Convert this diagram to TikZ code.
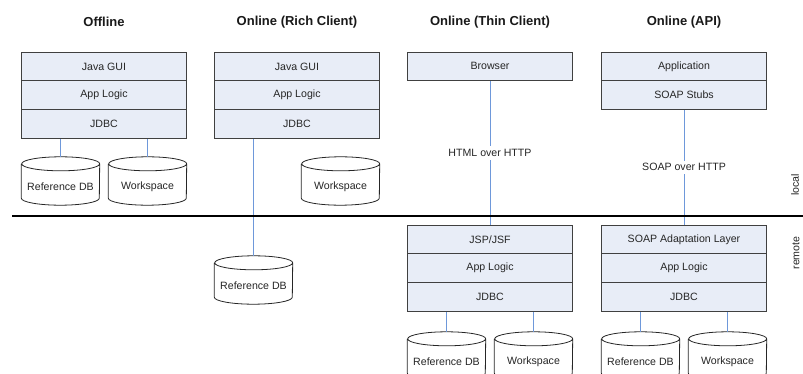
\documentclass[tikz,border=0pt]{standalone}
\usepackage{fontspec}
\setmainfont{Liberation Sans}
\usetikzlibrary{calc}
\definecolor{boxfill}{HTML}{E8EDF7}
\definecolor{linkblue}{HTML}{6E98DA}
\definecolor{edge}{HTML}{404040}
\definecolor{txt}{HTML}{262626}
\tikzset{
  layerbox/.style={draw=edge, line width=0.9pt, fill=boxfill, minimum width=165pt, minimum height=28.8pt, inner sep=0pt, text=txt, font=\fontsize{10.6}{12}\selectfont},
  dbbox/.style={minimum width=78pt, minimum height=48pt, inner sep=0pt},
  dbline/.style={draw=black!85, line width=0.8pt, fill=white},
  dbtxt/.style={inner sep=0pt, text=txt, font=\fontsize{10.6}{12}\selectfont},
  link/.style={draw=linkblue, line width=1pt},
  linklabel/.style={fill=white, inner sep=3pt, text=txt, font=\fontsize{10.6}{12}\selectfont},
  coltitle/.style={inner sep=0pt, text=black!90, font=\fontsize{13}{15}\selectfont\bfseries},
  sidetext/.style={inner sep=0pt, rotate=90, text=txt, font=\fontsize{10.6}{12}\selectfont},
}
\newcommand\dbcyl[4]{%
  \node[dbbox] (#1) at (#2,#3+24) {};
  \filldraw[dbline] ([yshift=-7pt]#1.north west) -- ([yshift=7pt]#1.south west)
    arc[start angle=180, end angle=360, x radius=39pt, y radius=7pt]
    -- ([yshift=-7pt]#1.north east)
    arc[start angle=0, end angle=180, x radius=39pt, y radius=7pt]
    arc[start angle=180, end angle=360, x radius=39pt, y radius=7pt];
  \node[dbtxt] (#1-t) at (#2,#3+30) {#4};
}
\begin{document}
\begin{tikzpicture}[x=1pt, y=-1pt]
\useasboundingbox (0,0) rectangle (803,374);
\clip (0,0) rectangle (803,374);

% titles
\node[coltitle] (t1) at (104,22) {Offline};
\node[coltitle] (t2) at (297,22) {Online (Rich Client)};
\node[coltitle] (t3) at (490,22) {Online (Thin Client)};
\node[coltitle] (t4) at (684,22) {Online (API)};

% column 1: offline
\node[layerbox] (a1) at (104,66.4) {Java GUI};
\node[layerbox] (a2) at (104,95.2) {App Logic};
\node[layerbox] (a3) at (104,124.0) {JDBC};
\dbcyl{ar}{60.5}{157}{Reference DB}
\dbcyl{aw}{147.5}{157}{Workspace}
\draw[link] (a3.south -| ar.north) -- (ar.north);
\draw[link] (a3.south -| aw.north) -- (aw.north);

% column 2: rich client
\node[layerbox] (b1) at (297,66.4) {Java GUI};
\node[layerbox] (b2) at (297,95.2) {App Logic};
\node[layerbox] (b3) at (297,124.0) {JDBC};
\dbcyl{bw}{340.5}{157}{Workspace}
\dbcyl{br}{253.5}{256}{Reference DB}
\draw[link] (b3.south -| br.north) -- (br.north);

% column 3: thin client
\node[layerbox] (c0) at (490,66.4) {Browser};
\node[layerbox] (c1) at (490,239.4) {JSP/JSF};
\node[layerbox] (c2) at (490,268.2) {App Logic};
\node[layerbox] (c3) at (490,297.0) {JDBC};
\dbcyl{cr}{446.5}{332}{Reference DB}
\dbcyl{cw}{533.5}{332}{Workspace}
\draw[link] (c0.south) -- (c1.north) node[linklabel, pos=0.5] {HTML over HTTP};
\draw[link] (c3.south -| cr.north) -- (cr.north);
\draw[link] (c3.south -| cw.north) -- (cw.north);

% column 4: API
\node[layerbox] (d0) at (684,66.4) {Application};
\node[layerbox] (d1) at (684,95.2) {SOAP Stubs};
\node[layerbox] (d2) at (684,239.4) {SOAP Adaptation Layer};
\node[layerbox] (d3) at (684,268.2) {App Logic};
\node[layerbox] (d4) at (684,297.0) {JDBC};
\dbcyl{dr}{640.5}{332}{Reference DB}
\dbcyl{dw}{727.5}{332}{Workspace}
\draw[link] (d1.south) -- (d2.north) node[linklabel, pos=0.5] {SOAP over HTTP};
\draw[link] (d4.south -| dr.north) -- (dr.north);
\draw[link] (d4.south -| dw.north) -- (dw.north);

% local / remote separator
\coordinate (sepL) at (12,216);
\coordinate (sepR) at (803,216);
\draw[line width=2.6pt, black] (sepL) -- (sepR);
\node[sidetext] (loc) at (795,185) {local};
\node[sidetext] (rem) at (796,253) {remote};
\end{tikzpicture}
\end{document}
